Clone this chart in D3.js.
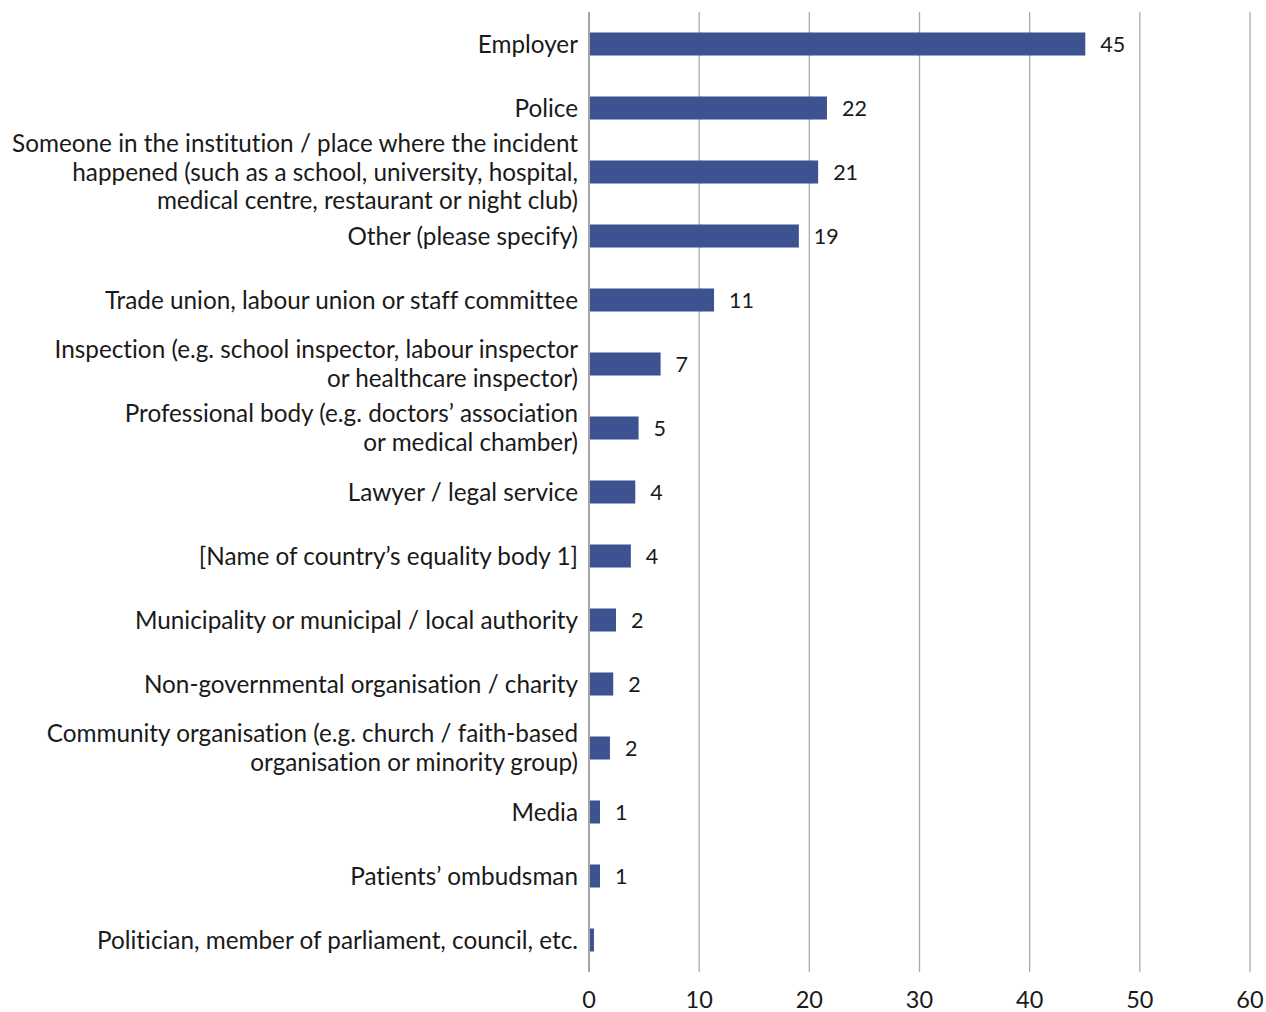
<!DOCTYPE html>
<html>
<head>
<meta charset="utf-8">
<script src="https://cdn.jsdelivr.net/npm/d3@7"></script>
<style>
  html, body { margin: 0; padding: 0; background: #ffffff; }
  svg { display: block; }
  text { font-family: Lato, "Open Sans", sans-serif; fill: #1a1a1a; font-variant-ligatures: none; font-feature-settings: "liga" 0, "clig" 0; }
</style>
</head>
<body>
<svg id="chart" width="1266" height="1012"></svg>
<script>
const categories = [
  ["Employer"],
  ["Police"],
  ["Someone in the institution / place where the incident", "happened (such as a school, university, hospital,", "medical centre, restaurant or night club)"],
  ["Other (please specify)"],
  ["Trade union, labour union or staff committee"],
  ["Inspection (e.g. school inspector, labour inspector", "or healthcare inspector)"],
  ["Professional body (e.g. doctors’ association", "or medical chamber)"],
  ["Lawyer / legal service"],
  ["[Name of country’s equality body 1]"],
  ["Municipality or municipal / local authority"],
  ["Non-governmental organisation / charity"],
  ["Community organisation (e.g. church / faith-based", "organisation or minority group)"],
  ["Media"],
  ["Patients’ ombudsman"],
  ["Politician, member of parliament, council, etc."]
];
const values = [45.05, 21.6, 20.8, 19.05, 11.35, 6.5, 4.5, 4.2, 3.8, 2.45, 2.2, 1.9, 1.0, 1.0, 0.45];
const valueLabels = ["45", "22", "21", "19", "11", "7", "5", "4", "4", "2", "2", "2", "1", "1", ""];
const xTicks = [0, 10, 20, 30, 40, 50, 60];

const svg = d3.select("#chart");
const x0 = 589, x1 = 1250, yTop = 12, yBottom = 972;

const x = d3.scaleLinear().domain([0, 60]).range([x0, x1]);
const y = d3.scaleBand().domain(d3.range(categories.length)).range([yTop, yBottom]).paddingInner(0.64).paddingOuter(0.32);

// gridlines
svg.append("g").selectAll("line").data(xTicks.slice(1)).join("line")
  .attr("x1", d => x(d)).attr("x2", d => x(d))
  .attr("y1", yTop).attr("y2", yBottom)
  .attr("stroke", "#ababab").attr("stroke-width", 1.3);

// bars
svg.append("g").selectAll("rect").data(values).join("rect")
  .attr("x", x(0))
  .attr("y", (d, i) => y(i))
  .attr("width", d => x(d) - x(0))
  .attr("height", y.bandwidth())
  .attr("fill", "#3d5291");

// axis line at 0
svg.append("line")
  .attr("x1", x(0)).attr("x2", x(0)).attr("y1", yTop).attr("y2", yBottom)
  .attr("stroke", "#a6a6a6").attr("stroke-width", 2);

// value labels
svg.append("g").selectAll("text").data(values).join("text")
  .attr("x", d => x(d) + 15)
  .attr("y", (d, i) => y(i) + y.bandwidth() / 2)
  .attr("dy", "0.35em")
  .attr("font-size", 21.5)
  .text((d, i) => valueLabels[i]);

// category labels
const lineH = 28.5;
const catG = svg.append("g");
categories.forEach((lines, i) => {
  const cy = y(i) + y.bandwidth() / 2;
  const n = lines.length;
  const t = catG.append("text")
    .attr("x", x0 - 11)
    .attr("text-anchor", "end")
    .attr("font-size", 24.3);
  lines.forEach((ln, j) => {
    t.append("tspan")
      .attr("x", x0 - 11)
      .attr("y", cy + (j - (n - 1) / 2) * lineH)
      .attr("dy", "0.35em")
      .text(ln);
  });
});

// x tick labels
svg.append("g").selectAll("text").data(xTicks).join("text")
  .attr("x", d => x(d))
  .attr("y", 1000)
  .attr("dy", "0.35em")
  .attr("text-anchor", "middle")
  .attr("font-size", 23.5)
  .text(d => d);
</script>
</body>
</html>
